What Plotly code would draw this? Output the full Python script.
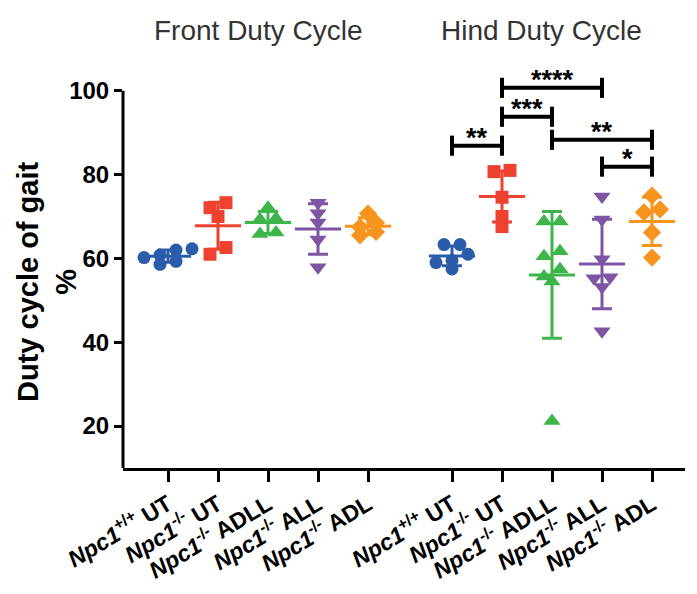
import numpy as np
import plotly.graph_objects as go

# ---------------- data ----------------
tick_labels = [
    "<b><i>Npc1</i><sup>+/+</sup> UT</b>",
    "<b><i>Npc1</i><sup>-/-</sup> UT</b>",
    "<b><i>Npc1</i><sup>-/-</sup> ADLL</b>",
    "<b><i>Npc1</i><sup>-/-</sup> ALL</b>",
    "<b><i>Npc1</i><sup>-/-</sup> ADL</b>",
]
panel_titles = ["Front Duty Cycle", "Hind Duty Cycle"]

front_wt_ut = [62.3, 62.0, 60.8, 60.2, 59.3, 58.6]
front_ko_ut = [73.3, 72.1, 70.0, 62.6, 61.0]
front_ko_adll = [72.1, 69.5, 69.3, 66.2, 65.8]
front_ko_all = [73.3, 70.8, 68.6, 64.5, 57.9]
front_ko_adl = [70.7, 68.5, 67.5, 66.3, 65.5]

hind_wt_ut = [63.3, 63.3, 61.0, 59.5, 59.0, 57.5]
hind_ko_ut = [81.0, 80.7, 74.6, 70.0, 67.6]
hind_ko_adll = [68.8, 68.8, 61.7, 60.5, 57.4, 55.7, 54.5, 21.2]
hind_ko_all = [74.8, 69.3, 59.8, 55.5, 55.3, 53.2, 42.6]
hind_ko_adl = [75.0, 71.7, 71.0, 66.2, 60.2]

# significance brackets within the hind panel (group indices)
sig_from = [0, 1, 1, 2, 3]
sig_to = [1, 3, 2, 4, 4]
sig_level = [86.9, 100.7, 93.8, 88.3, 81.9]
sig_text = ["**", "****", "***", "**", "*"]

# ---------------- styling / layout ----------------
colors = ["#2B5CAA", "#EE4130", "#3DB54A", "#7D55A3", "#F7941E"]
symbols = ["circle", "square", "triangle-up", "triangle-down", "diamond"]
msizes = [13, 13, 15, 15, 14]

PAGE_OFF = 8  # default body margin of the page
W, H = 697 - PAGE_OFF, 594 - PAGE_OFF
ML, MR, MT, MB = 123 - PAGE_OFF, 12, 91 - PAGE_OFF - 17, 126
XR = [0.1, 11.34]
YR = [10, 104]
plot_w = W - ML - MR
plot_h = H - MT - MB
px_x = plot_w / (XR[1] - XR[0])
px_y = plot_h / (YR[1] - YR[0])


def paper_x(sx):
    return (sx - PAGE_OFF - ML) / plot_w


def paper_y(sy):
    return (H - MB - (sy - PAGE_OFF)) / plot_h


gap = 0.68
front_pos = [i + 1 for i in range(5)]
hind_pos = [i + 1 + 5 + gap for i in range(5)]

front = [front_wt_ut, front_ko_ut, front_ko_adll, front_ko_all, front_ko_adl]
hind = [hind_wt_ut, hind_ko_ut, hind_ko_adll, hind_ko_all, hind_ko_adl]


def swarm_offsets(vals, step_px=16, thresh_px=9):
    vals = np.asarray(vals, dtype=float)
    order = np.argsort(-vals, kind="stable")
    rows = []
    for i in order:
        if rows and (vals[rows[-1][0]] - vals[i]) * px_y < thresh_px:
            rows[-1].append(i)
        else:
            rows.append([i])
    off = np.zeros(len(vals))
    for r in rows:
        n = len(r)
        for k, i in enumerate(r):
            off[i] = ((n - 1) / 2 - k) * step_px / px_x
    return off


fig = go.Figure()

for positions, groups in ((front_pos, front), (hind_pos, hind)):
    for g, (pos, vals) in enumerate(zip(positions, groups)):
        vals = np.asarray(vals, dtype=float)
        off = swarm_offsets(vals)
        fig.add_trace(go.Scatter(
            x=pos + off, y=vals, mode="markers",
            marker=dict(symbol=symbols[g], size=msizes[g], color=colors[g],
                        line=dict(width=0)),
            showlegend=False, hoverinfo="y"))
        m = vals.mean()
        sd = vals.std(ddof=1)
        fig.add_trace(go.Scatter(
            x=[pos], y=[m], mode="markers",
            marker=dict(symbol="line-ew", size=33, color=colors[g],
                        line=dict(width=3, color=colors[g])),
            error_y=dict(type="data", array=[sd], symmetric=True,
                         color=colors[g], thickness=3, width=10),
            showlegend=False, hoverinfo="y"))

tick_h = 2.4
for a, b, lvl, txt in zip(sig_from, sig_to, sig_level, sig_text):
    x1, x2 = hind_pos[a], hind_pos[b]
    fig.add_trace(go.Scatter(
        x=[x1, x1, None, x1, x2, None, x2, x2],
        y=[lvl - tick_h, lvl + tick_h, None, lvl, lvl, None, lvl - tick_h, lvl + tick_h],
        mode="lines", line=dict(color="black", width=4),
        showlegend=False, hoverinfo="skip"))
    fig.add_annotation(x=(x1 + x2) / 2, y=lvl, xref="x", yref="y",
                       text="<b>" + txt + "</b>", showarrow=False, yanchor="bottom",
                       yshift=-8, borderpad=0,
                       font=dict(family="Liberation Sans", size=27, color="black"))

# panel titles
for txt, sx in zip(panel_titles, [258, 541]):
    fig.add_annotation(x=paper_x(sx), y=paper_y(31), xref="paper", yref="paper",
                       text=txt, showarrow=False, xanchor="center", yanchor="middle",
                       font=dict(family="Liberation Sans", size=28, color="#333333"))

# y axis title
fig.add_annotation(x=paper_x(47), y=paper_y(282),
                   xref="paper", yref="paper",
                   text="<b>Duty cycle of gait<br>%</b>", textangle=-90,
                   showarrow=False, xanchor="center", yanchor="middle",
                   font=dict(family="Liberation Sans", size=29, color="black"))

# y axis line only up to 100
fig.add_shape(type="line", xref="paper", yref="y", x0=0, x1=0, y0=YR[0], y1=100,
              line=dict(color="black", width=3))

fig.update_layout(
    width=W, height=H,
    margin=dict(l=ML, r=MR, t=MT, b=MB),
    paper_bgcolor="white", plot_bgcolor="white",
    font=dict(family="Liberation Sans", color="black"),
    xaxis=dict(range=XR, tickmode="array",
               tickvals=front_pos + hind_pos, ticktext=tick_labels * 2,
               tickangle=-31, ticks="outside", ticklen=11, tickwidth=3,
               tickcolor="black", showline=True, linewidth=3, linecolor="black",
               showgrid=False, zeroline=False,
               tickfont=dict(family="Liberation Sans", size=23, color="black")),
    yaxis=dict(range=YR, tickmode="array", tickvals=[20, 40, 60, 80, 100],
               ticks="outside", ticklen=8, tickwidth=3, tickcolor="black",
               showline=False, showgrid=False, zeroline=False,
               tickfont=dict(family="Liberation Sans", size=24, color="black",
                             weight="bold")),
)

fig.write_html("out.html")
